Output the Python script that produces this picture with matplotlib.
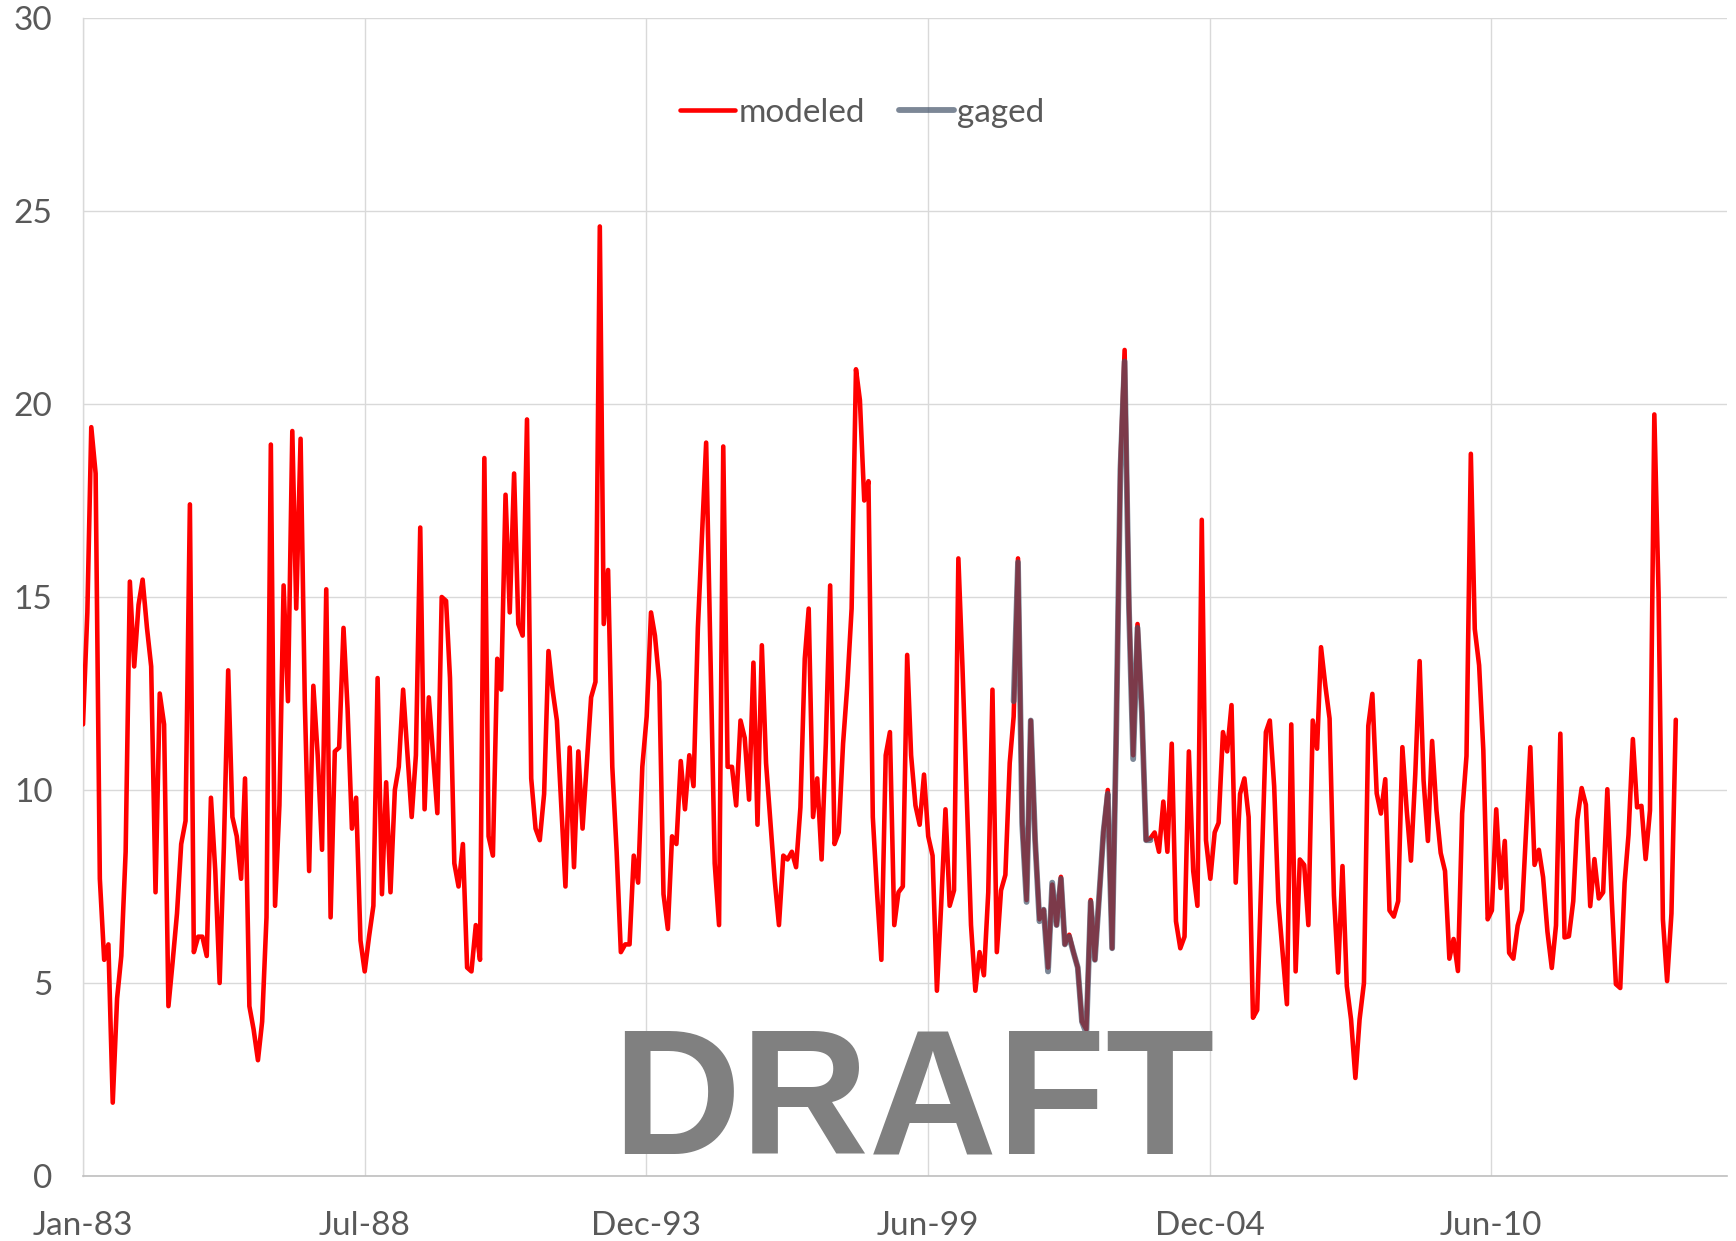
import numpy as np
import matplotlib
matplotlib.use("Agg")
import matplotlib.pyplot as plt
import matplotlib.dates as mdates

# monthly flow, months counted from Jan 1983
modeled_month = [
    0, 1, 2, 3, 4, 5, 6, 7, 8, 9, 10, 11, 12, 13, 14, 15, 16, 17, 18, 19,
    20, 21, 22, 23, 24, 25, 26, 27, 28, 29, 30, 31, 32, 33, 34, 35, 36, 37, 38, 39,
    40, 41, 42, 43, 44, 45, 46, 47, 48, 49, 50, 51, 52, 53, 54, 55, 56, 57, 58, 59,
    60, 61, 62, 63, 64, 65, 66, 67, 68, 69, 70, 71, 72, 73, 74, 75, 77, 78, 79,
    80, 81, 83, 84, 85, 86, 87, 88, 89, 90, 91, 92, 93, 94, 95, 96, 97, 98, 99,
    100, 101, 102, 103, 104, 105, 106, 107, 108, 109, 110, 111, 113, 114, 115, 116, 117, 119,
    120, 121, 122, 123, 124, 125, 126, 127, 128, 129, 130, 131, 132, 133, 134, 135, 136, 137, 138, 139,
    140, 141, 142, 143, 144, 145, 146, 148, 149, 150, 151, 152, 153, 154, 155, 156, 157, 158, 159,
    160, 162, 163, 164, 165, 166, 167, 168, 169, 170, 171, 172, 173, 174, 175, 176, 177, 178, 179,
    180, 181, 182, 183, 184, 185, 186, 187, 188, 189, 190, 191, 192, 193, 194, 195, 196, 197, 198, 199,
    200, 201, 202, 203, 204, 205, 206, 208, 209, 210, 211, 212, 213, 214, 215, 216, 217, 218, 219,
    220, 221, 222, 223, 224, 225, 226, 227, 228, 229, 230, 231, 232, 233, 234, 235, 236, 237, 239,
    240, 241, 242, 243, 244, 245, 246, 247, 248, 249, 250, 251, 252, 253, 254, 255, 256, 257, 258, 259,
    260, 261, 262, 263, 264, 265, 266, 267, 268, 269, 270, 271, 272, 273, 274, 275, 277, 278, 279,
    280, 282, 283, 284, 285, 286, 287, 288, 289, 290, 291, 292, 293, 294, 295, 296, 297, 298, 299,
    300, 301, 302, 303, 304, 305, 306, 307, 308, 309, 310, 311, 312, 313, 314, 315, 316, 317, 318, 319,
    320, 321, 322, 323, 324, 325, 326, 327, 328, 329, 330, 331, 332, 333, 334, 335, 336, 337, 339,
    340, 341, 342, 343, 344, 345, 346, 347, 348, 349, 350, 351, 352, 353, 354, 355, 356, 357, 358, 359,
    360, 361, 362, 363, 364, 365, 366, 367, 368, 369, 370, 371, 372, 373,
]
modeled_value = [
    11.7, 14.6, 19.4, 18.2, 7.7, 5.6, 6.0, 1.9, 4.6, 5.7, 8.4, 15.4, 13.2, 14.8, 15.45, 14.2, 13.2, 7.35, 12.5, 11.7,
    4.4, 5.55, 6.8, 8.6, 9.2, 17.4, 5.8, 6.2, 6.2, 5.7, 9.8, 7.9, 5.0, 8.5, 13.1, 9.3, 8.8, 7.7, 10.3, 4.4,
    3.8, 3.0, 4.0, 6.7, 18.95, 7.0, 9.6, 15.3, 12.3, 19.3, 14.7, 19.1, 12.3, 7.9, 12.7, 10.9, 8.45, 15.2, 6.7, 11.0,
    11.1, 14.2, 12.1, 9.0, 9.8, 6.1, 5.3, 6.2, 7.0, 12.9, 7.3, 10.2, 7.35, 10.0, 10.6, 12.6, 9.3, 10.9, 16.8,
    9.5, 12.4, 9.4, 15.0, 14.9, 12.9, 8.1, 7.5, 8.6, 5.4, 5.3, 6.5, 5.6, 18.6, 8.8, 8.3, 13.4, 12.6, 17.65,
    14.6, 18.2, 14.3, 14.0, 19.6, 10.3, 9.0, 8.7, 9.9, 13.6, 12.6, 11.8, 7.5, 11.1, 8.0, 11.0, 9.0, 12.4,
    12.8, 24.6, 14.3, 15.7, 10.6, 8.4, 5.8, 6.0, 6.0, 8.3, 7.6, 10.6, 11.9, 14.6, 14.0, 12.8, 7.3, 6.4, 8.8, 8.6,
    10.75, 9.5, 10.9, 10.1, 14.2, 16.7, 19.0, 8.1, 6.5, 18.9, 10.6, 10.6, 9.6, 11.8, 11.35, 9.75, 13.3, 9.1, 13.75,
    10.7, 7.7, 6.5, 8.3, 8.2, 8.4, 8.0, 9.55, 13.4, 14.7, 9.3, 10.3, 8.2, 11.2, 15.3, 8.6, 8.9, 11.2, 12.7,
    14.7, 20.9, 20.1, 17.5, 18.0, 9.3, 7.35, 5.6, 10.9, 11.5, 6.5, 7.35, 7.5, 13.5, 10.9, 9.6, 9.1, 10.4, 8.8, 8.3,
    4.8, 7.0, 9.5, 7.0, 7.4, 16.0, 13.2, 6.5, 4.8, 5.8, 5.2, 7.35, 12.6, 5.8, 7.4, 7.8, 10.7, 11.9, 16.0,
    9.15, 7.15, 11.8, 8.7, 6.65, 6.9, 5.4, 7.55, 6.5, 7.75, 6.0, 6.25, 5.8, 5.4, 4.0, 3.8, 7.15, 5.6, 8.9,
    10.0, 5.9, 11.2, 18.4, 21.4, 14.8, 10.9, 14.3, 12.0, 8.7, 8.75, 8.9, 8.4, 9.7, 8.4, 11.2, 6.6, 5.9, 6.2, 11.0,
    7.9, 7.0, 17.0, 8.7, 7.7, 8.9, 9.15, 11.5, 11.0, 12.2, 7.6, 9.9, 10.3, 9.3, 4.1, 4.3, 11.5, 11.8, 10.1,
    7.1, 4.45, 11.7, 5.3, 8.2, 8.06, 6.5, 11.8, 11.07, 13.7, 12.7, 11.85, 7.27, 5.27, 8.03, 4.92, 4.06, 2.54, 4.06,
    5.0, 11.66, 12.49, 9.91, 9.39, 10.28, 6.88, 6.72, 7.12, 11.11, 9.47, 8.17, 10.41, 13.34, 10.25, 8.68, 11.27, 9.47, 8.37, 7.9,
    5.63, 6.14, 5.31, 9.39, 10.88, 18.71, 14.17, 13.23, 11.03, 6.65, 6.88, 9.5, 7.46, 8.68, 5.78, 5.63, 6.49, 6.88, 11.11,
    8.06, 8.45, 7.74, 6.33, 5.39, 6.49, 11.46, 6.18, 6.21, 7.12, 9.23, 10.05, 9.62, 6.99, 8.21, 7.19, 7.35, 10.02, 7.19, 4.97,
    4.87, 7.59, 8.84, 11.32, 9.55, 9.59, 8.21, 9.47, 19.73, 15.11, 6.65, 5.05, 6.8, 11.82,
]

gaged_month = [
    218, 219, 220, 221, 222, 223, 224, 225, 226, 227, 228, 229, 230, 231, 232, 233,
    234, 235, 236, 237, 239, 240, 241, 242, 243, 244, 245, 246, 247, 248, 249, 250,
]
gaged_value = [
    12.3, 15.9, 9.1, 7.1, 11.8, 8.7, 6.6, 6.9, 5.3, 7.6, 6.5, 7.7, 6.0, 6.2, 5.8, 5.4,
    4.0, 3.7, 7.1, 5.6, 8.9, 9.9, 5.9, 11.2, 18.3, 21.1, 14.7, 10.8, 14.2, 12.0, 8.7, 8.7,
]

tick_dates = ["1983-01-01", "1988-07-01", "1993-12-30", "1999-06-29", "2004-12-27", "2010-06-26"]

start = np.datetime64("1983-01", "M")
modeled_x = (start + np.array(modeled_month)).astype("datetime64[D]")
gaged_x = (start + np.array(gaged_month)).astype("datetime64[D]")

txt = "#595959"
fig = plt.figure(figsize=(17.36, 12.41), dpi=100)
ax = fig.add_axes([83 / 1736, 1 - 1176 / 1241, 1644 / 1736, 1158 / 1241])

ax.plot(modeled_x, modeled_value, color="#ff0000", lw=3.3, label="modeled",
        solid_joinstyle="round", solid_capstyle="round", zorder=3)
ax.plot(gaged_x, gaged_value, color="#44546a", alpha=0.7, lw=4.2, label="gaged",
        solid_joinstyle="round", solid_capstyle="round", zorder=4)

ax.set_ylim(0, 30)
ax.set_yticks(range(0, 31, 5))
ax.set_xlim(np.datetime64("1983-01-01"), np.datetime64("2015-02-01"))
ax.set_xticks([np.datetime64(d) for d in tick_dates])
ax.xaxis.set_major_formatter(mdates.DateFormatter("%b-%y"))

ax.grid(True, color="#d9d9d9", lw=1.0)
ax.set_axisbelow(True)
for s in ["top", "right"]:
    ax.spines[s].set_visible(False)
ax.spines["left"].set_color("#d9d9d9")
ax.spines["bottom"].set_color("#bfbfbf")
ax.spines["left"].set_linewidth(1.0)
ax.spines["bottom"].set_linewidth(1.2)

ax.tick_params(axis="both", length=0, labelsize=24, labelcolor=txt)
ax.tick_params(axis="y", pad=22)
ax.tick_params(axis="x", pad=25)
for lab in ax.get_xticklabels() + ax.get_yticklabels():
    lab.set_family("Lato")

leg = ax.legend(loc="center", bbox_to_anchor=(0.474, 0.918), ncol=2, frameon=False,
                prop={"family": "Lato", "size": 24}, handlelength=1.65,
                handletextpad=0.1, columnspacing=1.0)
for t in leg.get_texts():
    t.set_color(txt)

fig.text(913 / 1736, 1 - 1153 / 1241, "DRAFT", ha="center", va="baseline",
         fontsize=128, fontweight="bold", color="#808080", family="Liberation Sans", zorder=10)

fig.savefig("out.png", dpi=100)
